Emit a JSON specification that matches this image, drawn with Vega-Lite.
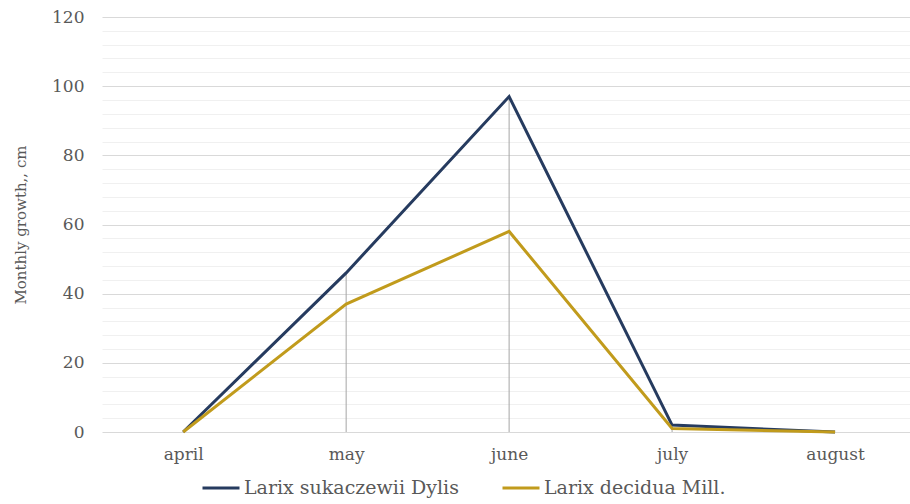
{
  "$schema": "https://vega.github.io/schema/vega-lite/v6.json",
  "autosize": "none",
  "width": 808,
  "height": 415,
  "padding": {"left": 102, "top": 17, "right": 0, "bottom": 72},
  "background": "white",
  "config": {
    "font": "DejaVu Serif",
    "view": {"stroke": null}
  },
  "data": {
    "values": [
      {"month": "april", "species": "Larix sukaczewii Dylis", "growth": 0},
      {"month": "may", "species": "Larix sukaczewii Dylis", "growth": 46},
      {"month": "june", "species": "Larix sukaczewii Dylis", "growth": 97},
      {"month": "july", "species": "Larix sukaczewii Dylis", "growth": 2},
      {"month": "august", "species": "Larix sukaczewii Dylis", "growth": 0},
      {"month": "april", "species": "Larix decidua Mill.", "growth": 0},
      {"month": "may", "species": "Larix decidua Mill.", "growth": 37},
      {"month": "june", "species": "Larix decidua Mill.", "growth": 58},
      {"month": "july", "species": "Larix decidua Mill.", "growth": 1},
      {"month": "august", "species": "Larix decidua Mill.", "growth": 0}
    ]
  },
  "encoding": {
    "x": {
      "field": "month",
      "type": "nominal",
      "sort": ["april", "may", "june", "july", "august"],
      "scale": {"type": "point", "padding": 0.479, "align": 0.52},
      "axis": {
        "title": null,
        "domain": false,
        "ticks": false,
        "grid": false,
        "labelAngle": 0,
        "labelFont": "DejaVu Serif",
        "labelFontSize": 17,
        "labelColor": "#595959",
        "labelPadding": 14
      }
    }
  },
  "layer": [
    {
      "transform": [
        {"aggregate": [{"op": "max", "field": "growth", "as": "top"}], "groupby": ["month"]}
      ],
      "mark": {"type": "rule", "color": "#a6a6a6", "strokeWidth": 1},
      "encoding": {
        "y": {"field": "top", "type": "quantitative"},
        "y2": {"datum": 0}
      }
    },
    {
      "mark": {"type": "line", "strokeWidth": 3},
      "encoding": {
        "y": {
          "field": "growth",
          "type": "quantitative",
          "scale": {"domain": [0, 120], "nice": false},
          "axis": {
            "title": "Monthly growth,, cm",
            "titleFont": "DejaVu Serif",
            "titleFontSize": 15,
            "titleFontWeight": "normal",
            "titleColor": "#595959",
            "titlePadding": 23,
            "tickCount": 40,
            "values": [0,4,8,12,16,20,24,28,32,36,40,44,48,52,56,60,64,68,72,76,80,84,88,92,96,100,104,108,112,116,120],
            "labelExpr": "datum.value % 20 === 0 ? datum.label : ''",
            "labelOverlap": false,
            "labelFont": "DejaVu Serif",
            "labelFontSize": 17,
            "labelColor": "#595959",
            "labelPadding": 18,
            "domain": false,
            "ticks": false,
            "grid": true,
            "gridColor": {"condition": {"test": "datum.value % 20 === 0", "value": "#d9d9d9"}, "value": "#f0f0f0"},
            "gridWidth": 1
          }
        },
        "color": {
          "field": "species",
          "type": "nominal",
          "sort": ["Larix sukaczewii Dylis", "Larix decidua Mill."],
          "scale": {"domain": ["Larix sukaczewii Dylis", "Larix decidua Mill."], "range": ["#263b5f", "#c19b1c"]},
          "legend": {
            "title": null,
            "orient": "none",
            "legendX": 99,
            "legendY": 451,
            "padding": 0,
            "direction": "horizontal",
            "columns": 2,
            "columnPadding": 37,
            "symbolType": "stroke",
            "symbolSize": 1369,
            "symbolStrokeWidth": 3,
            "labelFont": "DejaVu Serif",
            "labelFontSize": 19,
            "labelLimit": 400,
            "labelColor": "#595959",
            "labelOffset": 3
          }
        }
      }
    }
  ]
}
